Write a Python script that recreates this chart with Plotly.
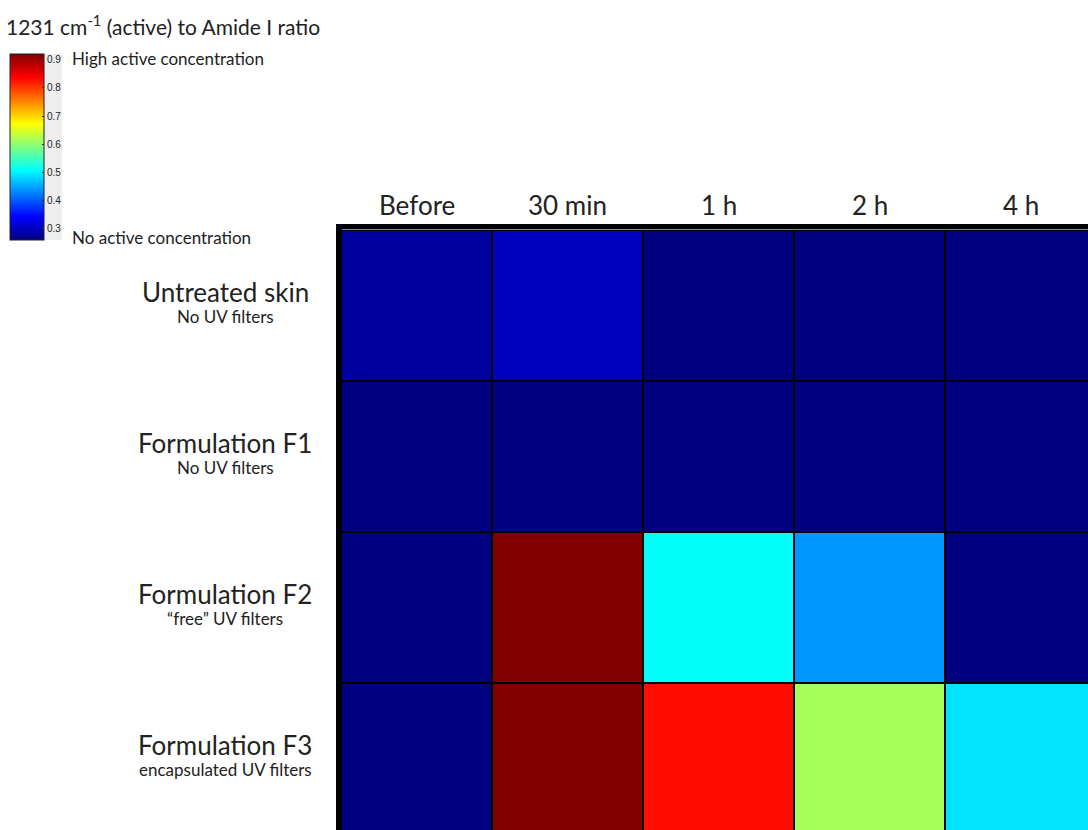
import plotly.graph_objects as go

# Time points after application and the skin samples measured
time_points = ["Before", "30 min", "1 h", "2 h", "4 h"]
samples = ["Untreated skin", "Formulation F1", "Formulation F2", "Formulation F3"]
sample_notes = ["No UV filters", "No UV filters", "\u201cfree\u201d UV filters", "encapsulated UV filters"]

# 1231 cm-1 (active) / Amide I band ratio per sample (rows) and time point (columns)
ratio_untreated = [0.28, 0.30, 0.26, 0.26, 0.26]
ratio_f1 = [0.26, 0.26, 0.26, 0.26, 0.26]
ratio_f2 = [0.26, 0.92, 0.51, 0.44, 0.26]
ratio_f3 = [0.26, 0.92, 0.83, 0.615, 0.49]

colorbar_ticks = [0.3, 0.4, 0.5, 0.6, 0.7, 0.8, 0.9]

W, H = 1088, 830
L, T = 341, 230          # left / top edge of the cell grid in pixels
CELL = 151               # cell size in pixels

jet = [
    [0.0, "#000080"],
    [0.125, "#0000ff"],
    [0.375, "#00ffff"],
    [0.625, "#ffff00"],
    [0.875, "#ff0000"],
    [1.0, "#800000"],
]

pw = W - L
ph = H - T


def px_x(p):
    return (p - L) / pw


def px_y(p):
    return 1 - (p - T) / ph


z = [ratio_untreated, ratio_f1, ratio_f2, ratio_f3]

fig = go.Figure(
    go.Heatmap(
        z=z,
        x=list(range(len(time_points))),
        y=list(range(len(samples))),
        colorscale=jet,
        zmin=0.26,
        zmax=0.92,
        xgap=2,
        ygap=2,
        hoverinfo="skip",
        colorbar=dict(
            x=px_x(10),
            xanchor="left",
            y=px_y(54),
            yanchor="top",
            lenmode="pixels",
            len=186,
            thickness=34,
            thicknessmode="pixels",
            outlinewidth=1,
            outlinecolor="#222",
            xpad=0,
            ypad=0,
            tickmode="array",
            tickvals=colorbar_ticks,
            ticktext=[f"{v:.1f}" for v in colorbar_ticks],
            ticks="inside",
            ticklen=2,
            tickcolor="#333",
            tickfont=dict(family="Arial", size=10, color="#222"),
        ),
    )
)

fig.update_layout(
    width=W,
    height=H,
    margin=dict(l=L, r=0, t=T, b=0),
    paper_bgcolor="white",
    plot_bgcolor="black",
    xaxis=dict(range=[-0.5, -0.5 + pw / CELL], visible=False, fixedrange=True),
    yaxis=dict(range=[-0.5 + ph / CELL, -0.5], visible=False, fixedrange=True),
    showlegend=False,
)

font_main = "Lato, 'Open Sans', sans-serif"

# Heavy frame on the left and top edges of the grid
fig.add_shape(type="rect", xref="paper", yref="paper",
              x0=px_x(336), x1=px_x(342), y0=px_y(H + 5), y1=px_y(224),
              fillcolor="black", line_width=0, layer="above")
fig.add_shape(type="rect", xref="paper", yref="paper",
              x0=px_x(336), x1=1.01, y0=px_y(229), y1=px_y(224),
              fillcolor="black", line_width=0, layer="above")
fig.add_shape(type="line", xref="paper", yref="paper",
              x0=px_x(342), x1=1.01, y0=px_y(229.5), y1=px_y(229.5),
              line=dict(color="#888", width=1), layer="above")

# Light band behind the colour bar tick labels
fig.add_shape(type="rect", xref="paper", yref="paper",
              x0=px_x(44), x1=px_x(62), y0=px_y(240), y1=px_y(54),
              fillcolor="#eeeeee", line_width=0, layer="below")

# Chart title
fig.add_annotation(xref="paper", yref="paper", x=px_x(4), y=px_y(25),
                   xanchor="left", yanchor="middle", showarrow=False,
                   text="1231 cm<sup>-1</sup> (active) to Amide I ratio",
                   font=dict(family=font_main, size=21, color="#222"))

# Colour bar end labels
fig.add_annotation(xref="paper", yref="paper", x=px_x(70), y=px_y(58),
                   xanchor="left", yanchor="middle", showarrow=False,
                   text="High active concentration",
                   font=dict(family=font_main, size=17, color="#222"))
fig.add_annotation(xref="paper", yref="paper", x=px_x(70), y=px_y(237),
                   xanchor="left", yanchor="middle", showarrow=False,
                   text="No active concentration",
                   font=dict(family=font_main, size=17, color="#222"))

# Column headings
for i, label in enumerate(time_points):
    fig.add_annotation(xref="x", yref="paper", x=i, y=px_y(205),
                       xanchor="center", yanchor="middle", showarrow=False,
                       text=label,
                       font=dict(family=font_main, size=26, color="#222"))

# Row headings with a short description underneath
for j, (name, note) in enumerate(zip(samples, sample_notes)):
    fig.add_annotation(xref="paper", yref="y", x=px_x(225), y=j - 0.092,
                       xanchor="center", yanchor="middle", showarrow=False,
                       text=name,
                       font=dict(family=font_main, size=26, color="#222"))
    fig.add_annotation(xref="paper", yref="y", x=px_x(225), y=j + 0.072,
                       xanchor="center", yanchor="middle", showarrow=False,
                       text=note,
                       font=dict(family=font_main, size=17, color="#222"))

fig.write_html("out.html")
